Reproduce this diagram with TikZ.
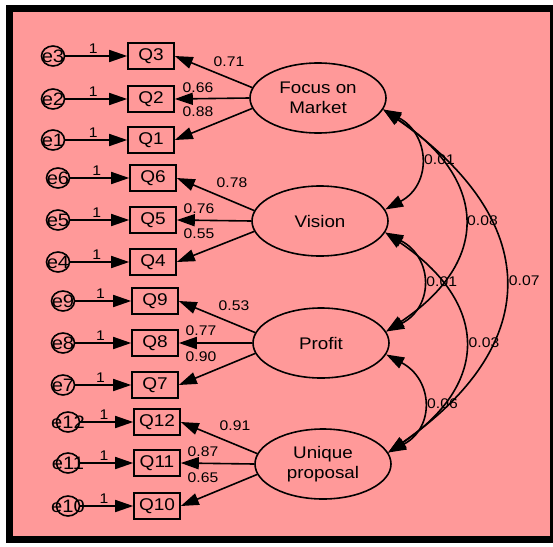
\documentclass[tikz,border=0pt]{standalone}
\usepackage{fontspec}
\setmainfont{Liberation Sans}[FakeStretch=1.12]
\usetikzlibrary{shapes.geometric,arrows.meta}
\definecolor{semback}{RGB}{255,153,153}

\begin{document}
\begin{tikzpicture}[x=1pt, y=-1pt, line width=1.6pt, >={Triangle[length=18pt,width=12pt]}]
  \tikzset{
    obs/.style={draw, minimum width=46pt, minimum height=26pt, inner sep=0pt, font=\fontsize{17}{20}\selectfont},
    err/.style={draw, ellipse, minimum width=23pt, minimum height=20pt, inner sep=0pt, font=\fontsize{18}{20}\selectfont},
    latent/.style={draw, ellipse, minimum width=136pt, minimum height=70pt, inner sep=0pt, align=center, font=\fontsize{16.8}{20}\selectfont},
    coef/.style={font=\fontsize{14}{16}\selectfont, inner sep=0pt},
    reg/.style={->},
    cov/.style={<->}
  }

  % frame
  \useasboundingbox (0,0) rectangle (553,546);
  \fill[semback] (13,11) rectangle (550,536);
  \draw[line width=7pt] (9.5,8) rectangle (553.5,539.5);

  % factors
  \node[latent] (fm) at (318,98)  {Focus on\\Market};
  \node[latent] (vi) at (320,221) {Vision};
  \node[latent] (pr) at (321,343) {Profit};
  \node[latent] (up) at (323,464) {Unique\\proposal};

  % items with their error terms
  \foreach \q/\e/\x/\y/\ex in {Q3/e3/151/56/53, Q2/e2/151/99/53, Q1/e1/151/140/53,
      Q6/e6/153/178/58, Q5/e5/153/220/58, Q4/e4/153/262/58,
      Q9/e9/155/301/63, Q8/e8/155/343/63, Q7/e7/155/385/63,
      Q12/e12/157/422/68, Q11/e11/157/463/68, Q10/e10/157/506/68} {
    \node[obs] (\q) at (\x,\y) {\q};
    \node[err] (\e) at (\ex,\y) {\makebox[0pt]{\e}};
    \draw[reg] (\e) -- node[coef, above=2pt, pos=0.45] (one\q) {1} (\q);
  }

  % loadings
  \draw[reg] (fm.171)  -- (Q3.east);
  \draw[reg] (fm.west) -- (Q2.east);
  \draw[reg] (fm.189)  -- (Q1.east);
  \draw[reg] (vi.171)  -- (Q6.east);
  \draw[reg] (vi.west) -- (Q5.east);
  \draw[reg] (vi.189)  -- (Q4.east);
  \draw[reg] (pr.171)  -- (Q9.east);
  \draw[reg] (pr.west) -- (Q8.east);
  \draw[reg] (pr.189)  -- (Q7.east);
  \draw[reg] (up.171)  -- (Q12.east);
  \draw[reg] (up.west) -- (Q11.east);
  \draw[reg] (up.189)  -- (Q10.east);

  \node[coef] (w3)  at (229,62)  {0.71};
  \node[coef] (w2)  at (198,88)  {0.66};
  \node[coef] (w1)  at (198,112) {0.88};
  \node[coef] (w6)  at (232,183) {0.78};
  \node[coef] (w5)  at (199,209) {0.76};
  \node[coef] (w4)  at (199,234) {0.55};
  \node[coef] (w9)  at (234,306) {0.53};
  \node[coef] (w8)  at (201,331) {0.77};
  \node[coef] (w7)  at (201,357) {0.90};
  \node[coef] (w12) at (235,426) {0.91};
  \node[coef] (w11) at (203,452) {0.87};
  \node[coef] (w10) at (203,478) {0.65};

  % covariances
  \draw[cov] (fm.350) .. controls +(47,25) and +(47,-25) .. node[coef, right=4pt] (c12) {0.01} (vi.10);
  \draw[cov] (fm.350) .. controls +(105,70) and +(105,-70) .. node[coef, right=3pt] (c13) {0.08} (pr.10);
  \draw[cov] (fm.350) .. controls +(158,110) and +(158,-110) .. node[coef, right=4pt] (c14) {0.07} (up.10);
  \draw[cov] (vi.350) .. controls +(48,25) and +(48,-25) .. node[coef, right=4pt] (c23) {0.01} (pr.10);
  \draw[cov] (vi.350) .. controls +(103,70) and +(103,-70) .. node[coef, right=4pt] (c24) {0.03} (up.10);
  \draw[cov] (pr.350) .. controls +(47,25) and +(47,-25) .. node[coef, right=4pt] (c34) {0.06} (up.10);
\end{tikzpicture}
\end{document}
